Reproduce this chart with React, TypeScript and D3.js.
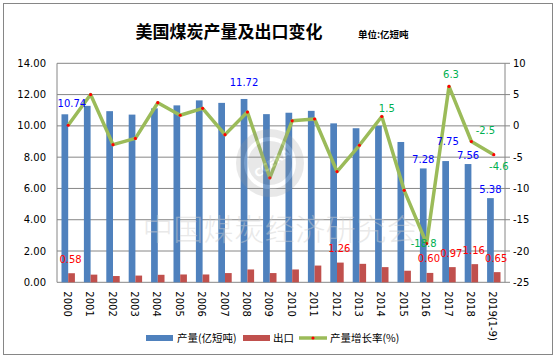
import * as d3 from 'd3';
import React from 'react';

const years = ['2000', '2001', '2002', '2003', '2004', '2005', '2006', '2007', '2008', '2009',
  '2010', '2011', '2012', '2013', '2014', '2015', '2016', '2017', '2018', '2019(1-9)'];
const production = [10.74, 11.28, 10.94, 10.72, 11.12, 11.31, 11.63, 11.47, 11.72, 10.75,
  10.84, 10.96, 10.16, 9.85, 10.0, 8.97, 7.28, 7.75, 7.56, 5.38];
const exports_ = [0.58, 0.49, 0.40, 0.43, 0.48, 0.50, 0.50, 0.59, 0.82, 0.59,
  0.82, 1.07, 1.26, 1.18, 0.97, 0.74, 0.60, 0.97, 1.16, 0.65];
const growth = [0.1, 5.0, -3.0, -2.0, 3.7, 1.7, 2.8, -1.4, 2.2, -8.3,
  0.8, 1.1, -7.3, -3.1, 1.5, -10.3, -18.8, 6.3, -2.5, -4.6];
const leftTicks = [0, 2, 4, 6, 8, 10, 12, 14];
const rightTicks = [-25, -20, -15, -10, -5, 0, 5, 10];
// which points get a value label
const prodLabelled = ['2000', '2008', '2016', '2017', '2018', '2019(1-9)'];
const expLabelled = ['2000', '2012', '2016', '2017', '2018', '2019(1-9)'];
const growthLabelled = ['2014', '2016', '2017', '2018', '2019(1-9)'];

const W = 556, H = 361;
const margin = { top: 63.3, right: 51, bottom: 78.7, left: 57 };
const numFont = '"DejaVu Sans", Verdana, sans-serif';
const cjkFont = '"Noto Sans CJK SC", sans-serif';

export default function App() {
  const x = d3.scaleBand().domain(years).range([margin.left, W - margin.right]);
  const sub = d3.scaleBand().domain(['p', 'e']).range([0, x.bandwidth()]).paddingInner(0).paddingOuter(0.67);
  const yL = d3.scaleLinear().domain([0, 14]).range([H - margin.bottom, margin.top]);
  const yR = d3.scaleLinear().domain([-25, 10]).range([H - margin.bottom, margin.top]);
  const cx = (y: string) => (x(y) as number) + x.bandwidth() / 2;
  const line = d3.line<number>().x((d, i) => cx(years[i])).y(d => yR(d));
  const x0 = margin.left, x1 = W - margin.right;

  // small nudges so labels sit where the original had them
  const prodOff: any = { '2000': [7, -11], '2008': [0, -16], '2017': [2, -20] };
  const growthOff: any = { '2014': [5, -8], '2016': [-3, 0], '2017': [2, -12], '2018': [14, -11], '2019(1-9)': [5, 12] };

  return (
    <svg width={W} height={H} style={{ position: 'absolute', left: 0, top: 0, background: '#fff' }}>
      <rect x={3.5} y={3.5} width={549} height={351} fill="#fff" stroke="#868686" />
      <text x={229} y={38} textAnchor="middle" fontFamily={cjkFont} fontWeight={700} fontSize={17} fill="#000">美国煤炭产量及出口变化</text>
      <text x={358} y={38} fontFamily={cjkFont} fontWeight={700} fontSize={9.5} fill="#000">单位:亿短吨</text>

      {/* grid + axes */}
      {leftTicks.map(t => (
        <g key={'l' + t}>
          <line x1={x0} x2={x1} y1={yL(t)} y2={yL(t)} stroke="#868686" />
          <text x={46} y={yL(t)} dy="0.35em" textAnchor="end" fontFamily={numFont} fontSize={10} fill="#000">{t.toFixed(2)}</text>
        </g>
      ))}
      <line x1={x0} x2={x0} y1={margin.top} y2={H - margin.bottom} stroke="#868686" />
      <line x1={x1} x2={x1} y1={margin.top} y2={H - margin.bottom} stroke="#868686" />
      {rightTicks.map(t => (
        <g key={'r' + t}>
          <line x1={x1} x2={x1 + 5} y1={yR(t)} y2={yR(t)} stroke="#868686" />
          <text x={513} y={yR(t)} dy="0.35em" fontFamily={numFont} fontSize={10} fill="#000">{t}</text>
        </g>
      ))}

      {/* bars */}
      {years.map((y, i) => (
        <g key={'b' + y}>
          <rect x={(x(y) as number) + (sub('p') as number)} width={sub.bandwidth()} y={yL(production[i])}
            height={yL(0) - yL(production[i])} fill="#4f81bd" />
          <rect x={(x(y) as number) + (sub('e') as number)} width={sub.bandwidth()} y={yL(exports_[i])}
            height={yL(0) - yL(exports_[i])} fill="#c0504d" />
        </g>
      ))}

      {/* growth line */}
      <path d={line(growth) as string} fill="none" stroke="#9bbb59" strokeWidth={3.5} strokeLinejoin="round" />
      {growth.map((g, i) => (
        <circle key={'m' + i} cx={cx(years[i])} cy={yR(g)} r={1.6} fill="#ff0000" />
      ))}

      {/* watermark */}
      <g opacity={0.22}>
        <circle cx={270} cy={163} r={34} fill="#9a9a9a" />
        <circle cx={270} cy={163} r={24} fill="none" stroke="#fff" strokeWidth={4} />
        <text x={272} y={167} textAnchor="middle" fontFamily={numFont} fontWeight={700} fontSize={11} fill="#fff" transform="rotate(-35 272 163)">CCERA</text>
      </g>
      <text x={280} y={240} textAnchor="middle" fontFamily={cjkFont} fontWeight={300} fontSize={30} fill="#cfcfcf" opacity={0.45} letterSpacing={0.5}>中国煤炭经济研究会</text>

      {/* value labels */}
      {years.map((y, i) => {
        if (!prodLabelled.includes(y)) return null;
        const o = prodOff[y] || [0, -9];
        return <text key={'pl' + y} x={(x(y) as number) + (sub('p') as number) + sub.bandwidth() / 2 + o[0]} y={yL(production[i]) + o[1]}
          dy="0.35em" textAnchor="middle" fontFamily={numFont} fontSize={10} fill="#0000ff">{production[i].toFixed(2)}</text>;
      })}
      {years.map((y, i) => {
        if (!expLabelled.includes(y)) return null;
        return <text key={'el' + y} x={(x(y) as number) + (sub('e') as number) + sub.bandwidth() / 2 - 1} y={yL(exports_[i]) - 14}
          dy="0.35em" textAnchor="middle" fontFamily={numFont} fontSize={10} fill="#ff0000">{exports_[i].toFixed(2)}</text>;
      })}
      {years.map((y, i) => {
        if (!growthLabelled.includes(y)) return null;
        const o = growthOff[y] || [0, -10];
        return <text key={'gl' + y} x={cx(y) + o[0]} y={yR(growth[i]) + o[1]}
          dy="0.35em" textAnchor="middle" fontFamily={numFont} fontSize={10} fill="#00b050">{growth[i]}</text>;
      })}

      {/* x labels */}
      {years.map(y => (
        <text key={'x' + y} transform={`translate(${cx(y) - 1},${H - margin.bottom + 9}) rotate(90)`} dy="0.35em"
          fontFamily={numFont} fontSize={10} fill="#000">{y}</text>
      ))}

      {/* legend */}
      <g fontFamily={cjkFont} fontSize={10.5} fill="#000">
        <rect x={146} y={335} width={27} height={6} fill="#4f81bd" />
        <text x={177} y={338} dy="0.35em">产量(亿短吨)</text>
        <rect x={243} y={335} width={27} height={6} fill="#c0504d" />
        <text x={273} y={338} dy="0.35em">出口</text>
        <line x1={299} x2={327} y1={338} y2={338} stroke="#9bbb59" strokeWidth={3.5} />
        <circle cx={313} cy={338} r={1.6} fill="#ff0000" />
        <text x={330} y={338} dy="0.35em">产量增长率(%)</text>
      </g>
    </svg>
  );
}
